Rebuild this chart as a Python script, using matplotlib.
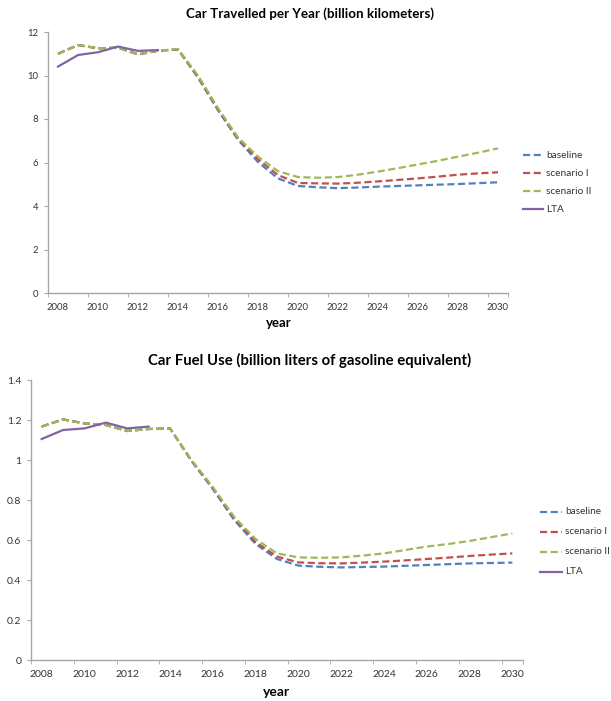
import matplotlib
matplotlib.use("Agg")
import matplotlib.pyplot as plt
from matplotlib.lines import Line2D

years = list(range(2008, 2031))
lta_years = list(range(2008, 2014))

# Chart 1: car travelled (billion km)
km_baseline = [11.0, 11.4, 11.25, 11.28, 10.97, 11.14, 11.2, 9.9, 8.4, 7.05, 6.02, 5.27, 4.92,
               4.86, 4.82, 4.85, 4.89, 4.92, 4.95, 4.98, 5.01, 5.05, 5.09]
km_scen1 = [11.0, 11.4, 11.25, 11.28, 10.97, 11.14, 11.2, 9.95, 8.45, 7.1, 6.15, 5.42, 5.06,
            5.04, 5.03, 5.07, 5.13, 5.2, 5.27, 5.35, 5.44, 5.5, 5.55]
km_scen2 = [11.0, 11.4, 11.25, 11.28, 10.97, 11.14, 11.22, 10.0, 8.5, 7.15, 6.27, 5.6, 5.33,
            5.3, 5.33, 5.44, 5.58, 5.74, 5.91, 6.08, 6.27, 6.45, 6.65]
km_lta = [10.41, 10.94, 11.07, 11.33, 11.13, 11.17]

# Chart 2: car fuel use (billion liters gasoline equivalent)
fuel_baseline = [1.167, 1.203, 1.183, 1.175, 1.145, 1.155, 1.158, 0.995, 0.855, 0.70, 0.58, 0.505, 0.472,
                 0.466, 0.463, 0.465, 0.467, 0.471, 0.475, 0.479, 0.483, 0.485, 0.487]
fuel_scen1 = [1.167, 1.203, 1.183, 1.175, 1.145, 1.155, 1.158, 0.998, 0.86, 0.708, 0.59, 0.517, 0.488,
              0.484, 0.483, 0.487, 0.492, 0.498, 0.505, 0.512, 0.52, 0.527, 0.533]
fuel_scen2 = [1.167, 1.203, 1.183, 1.175, 1.145, 1.155, 1.158, 1.0, 0.865, 0.715, 0.605, 0.533, 0.513,
              0.511, 0.513, 0.522, 0.533, 0.55, 0.567, 0.58, 0.595, 0.614, 0.633]
fuel_lta = [1.105, 1.15, 1.158, 1.187, 1.158, 1.167]

labels = ["baseline", "scenario I", "scenario II", "LTA"]
colors = ["#4F81BD", "#C0504D", "#9BBB59", "#8064A2"]
xtick_labels = list(range(2008, 2031, 2))

FONT = ["Lato", "DejaVu Sans"]
plt.rcParams["font.family"] = FONT

fig = plt.figure(figsize=(6.11, 7.01), dpi=100)
W, H = 611, 701


def make_axes(l, r, b, t):
    return fig.add_axes([l / W, 1 - b / H, (r - l) / W, (b - t) / H])


def style(ax, ymax, yticks, yfmt, fs):
    ax.set_xlim(2007.5, 2030.5)
    ax.set_ylim(0, ymax)
    for s in ["top", "right"]:
        ax.spines[s].set_visible(False)
    for s in ["left", "bottom"]:
        ax.spines[s].set_color("#A6A6A6")
        ax.spines[s].set_linewidth(1.0)
    ax.set_xticks(xtick_labels)
    ax.set_xticklabels([str(v) for v in xtick_labels], fontsize=fs, color="#333333")
    ax.set_xticks([v - 0.5 for v in xtick_labels] + [2030.5], minor=True)
    ax.tick_params(axis="x", which="major", length=0, pad=7)
    ax.tick_params(axis="x", which="minor", length=3, color="#A6A6A6", direction="out")
    ax.set_yticks(yticks)
    ax.set_yticklabels([yfmt(v) for v in yticks], fontsize=fs, color="#333333")
    ax.tick_params(axis="y", length=3, color="#A6A6A6", pad=4)


def draw(ax, b, s1, s2, lta):
    dash = (3.2, 1.6)
    ax.plot(years, b, color=colors[0], lw=1.6, dashes=dash, label=labels[0])
    ax.plot(years, s1, color=colors[1], lw=1.6, dashes=dash, label=labels[1])
    ax.plot(years, s2, color=colors[2], lw=1.6, dashes=dash, label=labels[2])
    ax.plot(lta_years, lta, color=colors[3], lw=1.6, label=labels[3])


# top chart
ax1 = make_axes(48, 508, 293, 32)
draw(ax1, km_baseline, km_scen1, km_scen2, km_lta)
style(ax1, 12, [0, 2, 4, 6, 8, 10, 12], lambda v: f"{v:g}", 6.8)
fig.text(310 / W, 1 - 14 / H, "Car Travelled per Year (billion kilometers)", ha="center", va="center",
         fontsize=9.6, fontweight="bold")
fig.text(279 / W, 1 - 323 / H, "year", ha="center", va="center", fontsize=9.5, fontweight="bold")

# bottom chart
ax2 = make_axes(31, 523, 660, 380)
draw(ax2, fuel_baseline, fuel_scen1, fuel_scen2, fuel_lta)
style(ax2, 1.4, [0, 0.2, 0.4, 0.6, 0.8, 1.0, 1.2, 1.4], lambda v: f"{v:g}", 7.5)
fig.text(310 / W, 1 - 360 / H, "Car Fuel Use (billion liters of gasoline equivalent)", ha="center",
         va="center", fontsize=10.7, fontweight="bold")
fig.text(277 / W, 1 - 692 / H, "year", ha="center", va="center", fontsize=10, fontweight="bold")


def legend(x0, x1, ys, fs):
    for i, (lab, c) in enumerate(zip(labels, colors)):
        y = 1 - ys[i] / H
        kw = dict(color=c, lw=1.6, transform=fig.transFigure)
        if i < 3:
            kw["dashes"] = (3.2, 1.6)
        fig.add_artist(Line2D([x0 / W, x1 / W], [y, y], **kw))
        fig.text((x1 + 3) / W, y, lab, ha="left", va="center", fontsize=fs, color="#333333")


legend(523, 543, [155, 173, 191, 209], 7.3)
legend(540, 562, [512, 532, 552, 572], 7.2)

fig.savefig("out.png", dpi=100)
